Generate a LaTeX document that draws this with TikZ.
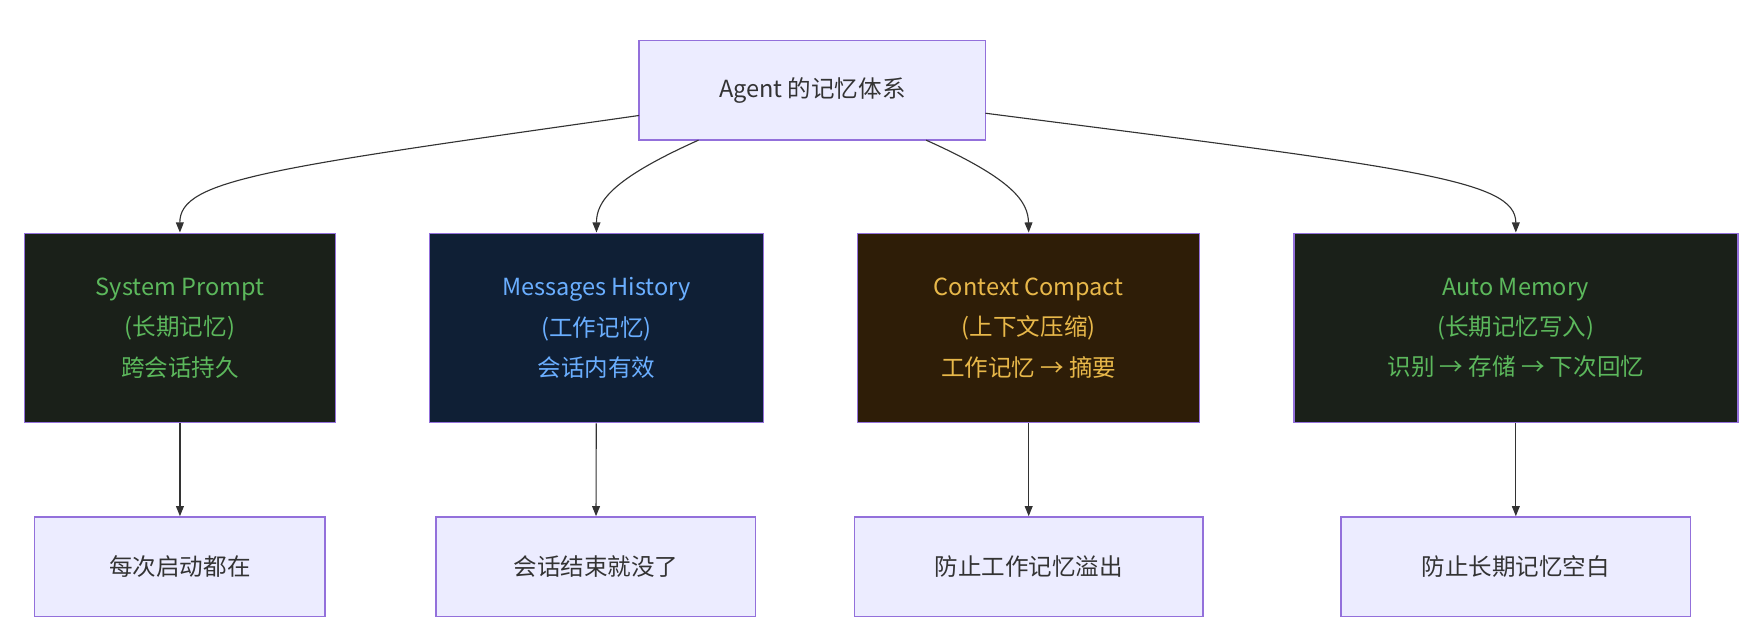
\documentclass[tikz,border=0pt]{standalone}
\usepackage{fontspec}
\setmainfont{Noto Sans CJK SC}
\usetikzlibrary{arrows.meta}
\definecolor{bord}{HTML}{9370DB}
\definecolor{lite}{HTML}{ECECFF}
\definecolor{txt}{HTML}{333333}
\definecolor{gfill}{HTML}{1A2019}
\definecolor{gtxt}{HTML}{5CB85C}
\definecolor{bfill}{HTML}{0F1F35}
\definecolor{btxt}{HTML}{6AAEFF}
\definecolor{yfill}{HTML}{2E1D07}
\definecolor{ytxt}{HTML}{E8B84A}
\begin{document}
\begin{tikzpicture}[x=1pt,y=-1pt,
  box/.style={draw=bord,line width=1.2pt,inner sep=0pt,align=center,font=\fontsize{21}{36}\selectfont},
  lb/.style={box,fill=lite,text=txt},
  arr/.style={draw=txt,line width=1pt,-{Triangle[length=9pt,width=7pt]}}]
\useasboundingbox (0,0) rectangle (1568,569);
\node[lb,minimum width=309pt,minimum height=89pt] (top) at (724.5,80.5) {Agent 的记忆体系};
\node[box,fill=gfill,text=gtxt,minimum width=277pt,minimum height=169pt] (a) at (160.5,292.5) {System Prompt\\(长期记忆)\\跨会话持久};
\node[box,fill=bfill,text=btxt,minimum width=298pt,minimum height=169pt] (b) at (532,292.5) {Messages History\\(工作记忆)\\会话内有效};
\node[box,fill=yfill,text=ytxt,minimum width=305pt,minimum height=169pt] (c) at (917.5,292.5) {Context Compact\\(上下文压缩)\\工作记忆 → 摘要};
\node[box,fill=gfill,text=gtxt,minimum width=396pt,minimum height=169pt] (d) at (1352,292.5) {Auto Memory\\(长期记忆写入)\\识别 → 存储 → 下次回忆};
\node[lb,minimum width=259pt,minimum height=89pt] (a2) at (160.5,505.5) {每次启动都在};
\node[lb,minimum width=285pt,minimum height=89pt] (b2) at (531.5,505.5) {会话结束就没了};
\node[lb,minimum width=311pt,minimum height=89pt] (c2) at (917.5,505.5) {防止工作记忆溢出};
\node[lb,minimum width=312pt,minimum height=89pt] (d2) at (1352,505.5) {防止长期记忆空白};
\coordinate (t1) at (570,103);
\coordinate (t2) at (623,125);
\coordinate (t3) at (826,125);
\coordinate (t4) at (879,101);
\draw[arr] (t1) .. controls (240,150) and (160,160) .. (a.north);
\draw[arr] (t2) .. controls (545,160) and (532,180) .. (b.north);
\draw[arr] (t3) .. controls (904,160) and (917,180) .. (c.north);
\draw[arr] (t4) .. controls (1260,150) and (1352,160) .. (d.north);
\draw[arr] (a) -- (a2);
\draw[arr] (b) -- (b2);
\draw[arr] (c) -- (c2);
\draw[arr] (d) -- (d2);
\end{tikzpicture}
\end{document}
